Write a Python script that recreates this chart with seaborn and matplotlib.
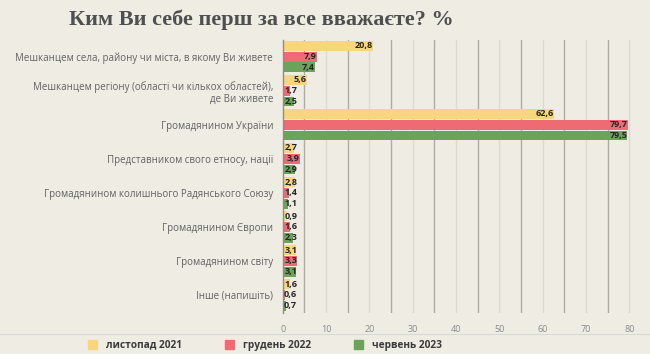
import numpy as np
import pandas as pd
import matplotlib.pyplot as plt
from matplotlib.patches import Rectangle
import seaborn as sns

categories = [
    "Мешканцем села, району чи міста, в якому Ви живете",
    "Мешканцем регіону (області чи кількох областей),\nде Ви живете",
    "Громадянином України",
    "Представником свого етносу, нації",
    "Громадянином колишнього Радянського Союзу",
    "Громадянином Європи",
    "Громадянином світу",
    "Інше (напишіть)",
]
periods = ["листопад 2021", "грудень 2022", "червень 2023"]
nov_2021 = [20.8, 5.6, 62.6, 2.7, 2.8, 0.9, 3.1, 1.6]
dec_2022 = [7.9, 1.7, 79.7, 3.9, 1.4, 1.6, 3.3, 0.6]
jun_2023 = [7.4, 2.5, 79.5, 2.9, 1.1, 2.3, 3.1, 0.7]
x_ticks = [0, 10, 20, 30, 40, 50, 60, 70, 80]

colors = ["#f8d57e", "#ee6b74", "#6ba35b"]
bg = "#efece3"

df = pd.DataFrame({
    "cat": categories * 3,
    "val": nov_2021 + dec_2022 + jun_2023,
    "period": [p for p in periods for _ in categories],
})

sns.set_style("white")
plt.rcParams["font.family"] = ["Open Sans", "DejaVu Sans"]

fig = plt.figure(figsize=(6.5, 3.54), dpi=100, facecolor=bg)
ax = fig.add_axes([0.435, 0.116, 0.54, 0.772])
ax.set_facecolor(bg)

# grid lines: darker at 5, 15, ..., lighter at 10, 20, ...
for g in range(5, 81, 5):
    c = "#adaba4" if g % 10 == 5 else "#dcd9d0"
    ax.axvline(g, color=c, lw=1.0, zorder=0)

sns.barplot(data=df, y="cat", x="val", hue="period", palette=colors,
            orient="h", width=0.95, gap=0.08, saturation=1, ax=ax,
            legend=False, zorder=2, linewidth=0, edgecolor="none")

for cont in ax.containers:
    for bar in cont:
        v = bar.get_width()
        yc = bar.get_y() + bar.get_height() / 2
        ax.text(max(v, 3.3), yc, f"{v:.1f}".replace(".", ","),
                ha="right", va="center", fontsize=6.5, fontweight="bold",
                color="#262626", zorder=3)

ax.set_xlim(0, 81)
ax.set_ylim(7.53, -0.5)
ax.set_xticks(x_ticks)
ax.set_xticklabels([str(t) for t in x_ticks], fontsize=6.5, color="#8a8a8a")
ax.tick_params(axis="x", length=0, pad=9)
ax.tick_params(axis="y", length=0, pad=7, labelsize=7.0, labelcolor="#626262")
ax.set_xlabel("")
ax.set_ylabel("")
for lab in ax.get_yticklabels():
    lab.set_multialignment("right")
for s in ["top", "right", "bottom"]:
    ax.spines[s].set_visible(False)
ax.spines["left"].set_color("#8f8d88")
ax.spines["left"].set_linewidth(1.0)

fig.text(0.402, 0.945, "Ким Ви себе перш за все вважаєте? %", ha="center",
         va="center", fontsize=16, fontweight="bold", color="#4f4f4f",
         family=["Liberation Serif", "DejaVu Serif"])

fig.add_artist(plt.Line2D([0, 1], [0.057, 0.057], transform=fig.transFigure,
                          color="#d6d9d6", lw=0.8))

handles = [Rectangle((0, 0), 1, 1, color=c) for c in colors]
fig.legend(handles, periods, loc="center", bbox_to_anchor=(0.408, 0.025),
           ncol=3, frameon=False, handlelength=0.9, handleheight=1.0,
           columnspacing=4.2, handletextpad=0.9,
           prop={"weight": "bold", "size": 7.3})
for t in fig.legends[0].get_texts():
    t.set_color("#3a3a3a")

fig.savefig("out.png", dpi=100, facecolor=bg)
